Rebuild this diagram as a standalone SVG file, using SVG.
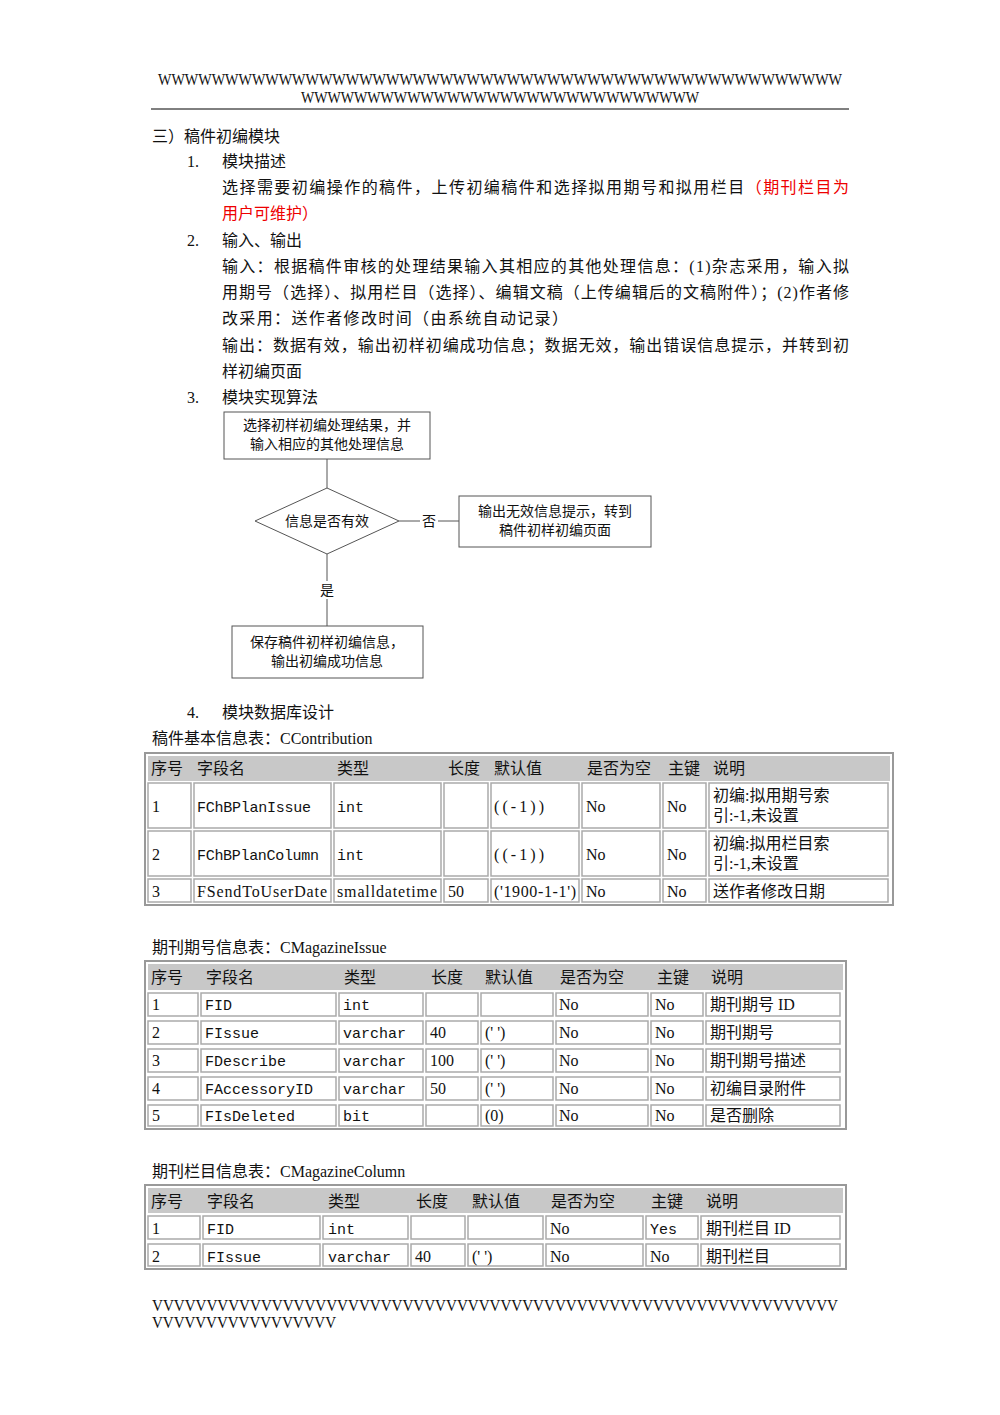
<svg xmlns="http://www.w3.org/2000/svg" width="1000" height="1415" viewBox="0 0 1000 1415">
<style>
text{font-family:"Liberation Serif","Noto Sans CJK SC",serif;font-size:16px;fill:#111}
.s{font-size:14px}
.m{font-family:"Liberation Mono","Noto Sans CJK SC",monospace;font-size:15px}
.r{fill:#e00}
.box{fill:#fff;stroke:#555;stroke-width:1}
.tb{fill:#fff;stroke:#999;stroke-width:2}
.hd{fill:#c8c8c8}
.c{fill:#fff;stroke:#aaa;stroke-width:1.5}
line{stroke:#555;stroke-width:1}
</style>
<rect width="1000" height="1415" fill="#fff"/>
<text x="158" y="85" font-size="15" textLength="684" lengthAdjust="spacingAndGlyphs">WWWWWWWWWWWWWWWWWWWWWWWWWWWWWWWWWWWWWWWWWWWWWWWWWWW</text>
<text x="301" y="103" font-size="15" textLength="398" lengthAdjust="spacingAndGlyphs">WWWWWWWWWWWWWWWWWWWWWWWWWWWWWW</text>
<line x1="151" y1="109" x2="849" y2="109" style="stroke:#000"/>
<text x="152" y="142">三）稿件初编模块</text>
<text x="187" y="167">1.</text><text x="222" y="167">模块描述</text>
<text x="222" y="193" textLength="627">选择需要初编操作的稿件，上传初编稿件和选择拟用期号和拟用栏目<tspan class="r">（期刊栏目为</tspan></text>
<text x="222" y="219" class="r">用户可维护）</text>
<text x="187" y="246">2.</text><text x="222" y="246">输入、输出</text>
<text x="222" y="272" textLength="627">输入：根据稿件审核的处理结果输入其相应的其他处理信息：(1)杂志采用，输入拟</text>
<text x="222" y="298" textLength="627">用期号（选择）、拟用栏目（选择）、编辑文稿（上传编辑后的文稿附件）；(2)作者修</text>
<text x="222" y="324" textLength="346">改采用：送作者修改时间（由系统自动记录）</text>
<text x="222" y="351" textLength="627">输出：数据有效，输出初样初编成功信息；数据无效，输出错误信息提示，并转到初</text>
<text x="222" y="377">样初编页面</text>
<text x="187" y="403">3.</text><text x="222" y="403">模块实现算法</text>
<g id="connectors">
<line x1="327" y1="459" x2="327" y2="488"/>
<line x1="399" y1="521" x2="459" y2="521"/>
<rect x="420" y="512" width="18" height="18" fill="#fff"/>
<text x="429" y="526" class="s" text-anchor="middle">否</text>
<line x1="327" y1="554" x2="327" y2="626"/>
<rect x="318" y="581" width="18" height="18" fill="#fff"/>
<text x="327" y="595" class="s" text-anchor="middle">是</text>
</g>
<g id="n1"><rect class="box" x="224" y="412" width="206" height="47"/>
<text x="327" y="430" class="s" text-anchor="middle">选择初样初编处理结果，并</text>
<text x="327" y="449" class="s" text-anchor="middle">输入相应的其他处理信息</text></g>
<g id="n2"><polygon class="box" points="327,488 399,521 327,554 255,521"/>
<text x="327" y="526" class="s" text-anchor="middle">信息是否有效</text></g>
<g id="n3"><rect class="box" x="459" y="496" width="192" height="51"/>
<text x="555" y="516" class="s" text-anchor="middle">输出无效信息提示，转到</text>
<text x="555" y="535" class="s" text-anchor="middle">稿件初样初编页面</text></g>
<g id="n4"><rect class="box" x="232" y="626" width="191" height="52"/>
<text x="327" y="647" class="s" text-anchor="middle">保存稿件初样初编信息，</text>
<text x="327" y="666" class="s" text-anchor="middle">输出初编成功信息</text></g>
<text x="187" y="718">4.</text><text x="222" y="718">模块数据库设计</text>
<text x="152" y="744">稿件基本信息表：CContribution</text>
<g id="t1">
<rect class="tb" x="145" y="753" width="748" height="152"/>
<rect class="hd" x="148" y="756" width="742" height="25"/>
<g class="c">
<rect x="148" y="783" width="43" height="45"/><rect x="194" y="783" width="137" height="45"/><rect x="334" y="783" width="107" height="45"/><rect x="444" y="783" width="44" height="45"/><rect x="491" y="783" width="88" height="45"/><rect x="582" y="783" width="78" height="45"/><rect x="663" y="783" width="43" height="45"/><rect x="709" y="783" width="179" height="45"/>
<rect x="148" y="831" width="43" height="45"/><rect x="194" y="831" width="137" height="45"/><rect x="334" y="831" width="107" height="45"/><rect x="444" y="831" width="44" height="45"/><rect x="491" y="831" width="88" height="45"/><rect x="582" y="831" width="78" height="45"/><rect x="663" y="831" width="43" height="45"/><rect x="709" y="831" width="179" height="45"/>
<rect x="148" y="879" width="43" height="23"/><rect x="194" y="879" width="137" height="23"/><rect x="334" y="879" width="107" height="23"/><rect x="444" y="879" width="44" height="23"/><rect x="491" y="879" width="88" height="23"/><rect x="582" y="879" width="78" height="23"/><rect x="663" y="879" width="43" height="23"/><rect x="709" y="879" width="179" height="23"/>
</g>
<text x="151" y="774" font-size="17">序号</text><text x="197" y="774" font-size="17">字段名</text><text x="337" y="774" font-size="17">类型</text><text x="448" y="774" font-size="17">长度</text><text x="494" y="774" font-size="17">默认值</text><text x="587" y="774" font-size="17">是否为空</text><text x="668" y="774" font-size="17">主键</text><text x="713" y="774" font-size="17">说明</text>
<text x="152" y="812">1</text><text x="197" y="812" class="m" textLength="114">FChBPlanIssue</text><text x="337" y="812" class="m">int</text><text x="494" y="812" textLength="50">((-1))</text><text x="586" y="812">No</text><text x="667" y="812">No</text><text x="713" y="801">初编:拟用期号索</text><text x="713" y="821">引:-1,未设置</text>
<text x="152" y="860">2</text><text x="197" y="860" class="m" textLength="122">FChBPlanColumn</text><text x="337" y="860" class="m">int</text><text x="494" y="860" textLength="50">((-1))</text><text x="586" y="860">No</text><text x="667" y="860">No</text><text x="713" y="849">初编:拟用栏目索</text><text x="713" y="869">引:-1,未设置</text>
<text x="152" y="897">3</text><text x="197" y="897" textLength="130">FSendToUserDate</text><text x="337" y="897" textLength="100">smalldatetime</text><text x="448" y="897">50</text><text x="494" y="897" textLength="82">('1900-1-1')</text><text x="586" y="897">No</text><text x="667" y="897">No</text><text x="713" y="897">送作者修改日期</text>
</g>
<text x="152" y="953">期刊期号信息表：CMagazineIssue</text>
<g id="t2">
<rect class="tb" x="145" y="961" width="701" height="168"/>
<rect class="hd" x="148" y="964" width="695" height="26"/>
<g class="c">
<rect x="148" y="993" width="50" height="23"/><rect x="201" y="993" width="135" height="23"/><rect x="339" y="993" width="84" height="23"/><rect x="426" y="993" width="52" height="23"/><rect x="481" y="993" width="72" height="23"/><rect x="556" y="993" width="92" height="23"/><rect x="651" y="993" width="52" height="23"/><rect x="706" y="993" width="134" height="23"/>
<rect x="148" y="1021" width="50" height="23"/><rect x="201" y="1021" width="135" height="23"/><rect x="339" y="1021" width="84" height="23"/><rect x="426" y="1021" width="52" height="23"/><rect x="481" y="1021" width="72" height="23"/><rect x="556" y="1021" width="92" height="23"/><rect x="651" y="1021" width="52" height="23"/><rect x="706" y="1021" width="134" height="23"/>
<rect x="148" y="1049" width="50" height="23"/><rect x="201" y="1049" width="135" height="23"/><rect x="339" y="1049" width="84" height="23"/><rect x="426" y="1049" width="52" height="23"/><rect x="481" y="1049" width="72" height="23"/><rect x="556" y="1049" width="92" height="23"/><rect x="651" y="1049" width="52" height="23"/><rect x="706" y="1049" width="134" height="23"/>
<rect x="148" y="1077" width="50" height="23"/><rect x="201" y="1077" width="135" height="23"/><rect x="339" y="1077" width="84" height="23"/><rect x="426" y="1077" width="52" height="23"/><rect x="481" y="1077" width="72" height="23"/><rect x="556" y="1077" width="92" height="23"/><rect x="651" y="1077" width="52" height="23"/><rect x="706" y="1077" width="134" height="23"/>
<rect x="148" y="1105" width="50" height="21"/><rect x="201" y="1105" width="135" height="21"/><rect x="339" y="1105" width="84" height="21"/><rect x="426" y="1105" width="52" height="21"/><rect x="481" y="1105" width="72" height="21"/><rect x="556" y="1105" width="92" height="21"/><rect x="651" y="1105" width="52" height="21"/><rect x="706" y="1105" width="134" height="21"/>
</g>
<text x="151" y="983" font-size="17">序号</text><text x="206" y="983" font-size="17">字段名</text><text x="344" y="983" font-size="17">类型</text><text x="431" y="983" font-size="17">长度</text><text x="485" y="983" font-size="17">默认值</text><text x="560" y="983" font-size="17">是否为空</text><text x="657" y="983" font-size="17">主键</text><text x="711" y="983" font-size="17">说明</text>
<text x="152" y="1010">1</text><text x="205" y="1010" class="m">FID</text><text x="343" y="1010" class="m">int</text><text x="559" y="1010">No</text><text x="655" y="1010">No</text><text x="710" y="1010">期刊期号 ID</text>
<text x="152" y="1038">2</text><text x="205" y="1038" class="m">FIssue</text><text x="343" y="1038" class="m">varchar</text><text x="430" y="1038">40</text><text x="485" y="1038">(' ')</text><text x="559" y="1038">No</text><text x="655" y="1038">No</text><text x="710" y="1038">期刊期号</text>
<text x="152" y="1066">3</text><text x="205" y="1066" class="m">FDescribe</text><text x="343" y="1066" class="m">varchar</text><text x="430" y="1066">100</text><text x="485" y="1066">(' ')</text><text x="559" y="1066">No</text><text x="655" y="1066">No</text><text x="710" y="1066">期刊期号描述</text>
<text x="152" y="1094">4</text><text x="205" y="1094" class="m">FAccessoryID</text><text x="343" y="1094" class="m">varchar</text><text x="430" y="1094">50</text><text x="485" y="1094">(' ')</text><text x="559" y="1094">No</text><text x="655" y="1094">No</text><text x="710" y="1094">初编目录附件</text>
<text x="152" y="1121">5</text><text x="205" y="1121" class="m">FIsDeleted</text><text x="343" y="1121" class="m">bit</text><text x="485" y="1121">(0)</text><text x="559" y="1121">No</text><text x="655" y="1121">No</text><text x="710" y="1121">是否删除</text>
</g>
<text x="152" y="1177">期刊栏目信息表：CMagazineColumn</text>
<g id="t3">
<rect class="tb" x="145" y="1185" width="701" height="84"/>
<rect class="hd" x="148" y="1188" width="695" height="25"/>
<g class="c">
<rect x="148" y="1216" width="52" height="23"/><rect x="203" y="1216" width="117" height="23"/><rect x="323" y="1216" width="85" height="23"/><rect x="411" y="1216" width="54" height="23"/><rect x="468" y="1216" width="75" height="23"/><rect x="546" y="1216" width="97" height="23"/><rect x="646" y="1216" width="52" height="23"/><rect x="701" y="1216" width="139" height="23"/>
<rect x="148" y="1244" width="52" height="22"/><rect x="203" y="1244" width="117" height="22"/><rect x="323" y="1244" width="85" height="22"/><rect x="411" y="1244" width="54" height="22"/><rect x="468" y="1244" width="75" height="22"/><rect x="546" y="1244" width="97" height="22"/><rect x="646" y="1244" width="52" height="22"/><rect x="701" y="1244" width="139" height="22"/>
</g>
<text x="151" y="1207" font-size="17">序号</text><text x="207" y="1207" font-size="17">字段名</text><text x="328" y="1207" font-size="17">类型</text><text x="416" y="1207" font-size="17">长度</text><text x="472" y="1207" font-size="17">默认值</text><text x="551" y="1207" font-size="17">是否为空</text><text x="651" y="1207" font-size="17">主键</text><text x="706" y="1207" font-size="17">说明</text>
<text x="152" y="1234">1</text><text x="207" y="1234" class="m">FID</text><text x="328" y="1234" class="m">int</text><text x="550" y="1234">No</text><text x="650" y="1234" class="m">Yes</text><text x="706" y="1234">期刊栏目 ID</text>
<text x="152" y="1262">2</text><text x="207" y="1262" class="m">FIssue</text><text x="328" y="1262" class="m">varchar</text><text x="415" y="1262">40</text><text x="472" y="1262">(' ')</text><text x="550" y="1262">No</text><text x="650" y="1262">No</text><text x="706" y="1262">期刊栏目</text>
</g>
<text x="152" y="1311" font-size="15" textLength="686" lengthAdjust="spacingAndGlyphs">VVVVVVVVVVVVVVVVVVVVVVVVVVVVVVVVVVVVVVVVVVVVVVVVVVVVVVVVVVVVVVV</text>
<text x="152" y="1328" font-size="15" textLength="184" lengthAdjust="spacingAndGlyphs">VVVVVVVVVVVVVVVVV</text>
</svg>
